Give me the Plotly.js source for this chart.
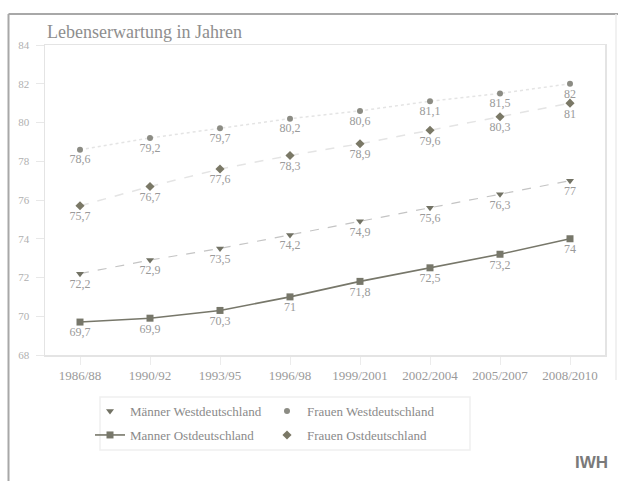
<!DOCTYPE html>
<html>
<head>
<meta charset="utf-8">
<script src="https://cdn.plot.ly/plotly-3.0.1.min.js"></script>
<style>html,body{margin:0;padding:0;background:#fff;}#chart{width:618px;height:481px;}</style>
</head>
<body>
<div id="chart"></div>
<script>
const periods = ["1986/88","1990/92","1993/95","1996/98","1999/2001","2002/2004","2005/2007","2008/2010"];
const maennerWest = [72.2, 72.9, 73.5, 74.2, 74.9, 75.6, 76.3, 77];
const frauenWest  = [78.6, 79.2, 79.7, 80.2, 80.6, 81.1, 81.5, 82];
const maennerOst  = [69.7, 69.9, 70.3, 71, 71.8, 72.5, 73.2, 74];
const frauenOst   = [75.7, 76.7, 77.6, 78.3, 78.9, 79.6, 80.3, 81];
const yTicks = [68,70,72,74,76,78,80,82,84];

const serif = "Liberation Serif, Times New Roman, serif";
const lblFont = {family: serif, size: 12, color: "#9a9a9a"};

function lineTr(y, lcolor, dash, lwidth) {
  return {type: "scatter", mode: "lines", x: periods, y: y, showlegend: false,
    hoverinfo: "skip", line: {color: lcolor, dash: dash, width: lwidth}};
}
function markTr(name, y, symbol, mcolor, legend, msize, withLine, lcolor) {
  return {
    type: "scatter", mode: withLine ? "lines+markers+text" : "markers+text", name: name, x: periods, y: y,
    texttemplate: "%{y}", textposition: "bottom center", textfont: lblFont,
    marker: {symbol: symbol, size: msize, color: mcolor},
    line: {color: lcolor || mcolor, width: 1.6},
    legend: legend, cliponaxis: false
  };
}

const data = [
  lineTr(maennerWest, "#c4c4c4", "dash", 1.2),
  lineTr(frauenWest, "#e4e4e4", "dot", 1.5),
  lineTr(frauenOst, "#e4e4e4", "dash", 1.5),
  markTr("Männer Westdeutschland", maennerWest, "triangle-down", "#727264", "legend", 7, false),
  markTr("Frauen Westdeutschland", frauenWest, "circle", "#8c8c84", "legend", 6, false),
  markTr("Manner Ostdeutschland", maennerOst, "square", "#77776a", "legend2", 7, true, "#77776a"),
  markTr("Frauen Ostdeutschland", frauenOst, "diamond", "#7a7866", "legend2", 7, false)
];
const lx = (px) => (px - 45) / 560;
const ly = (py) => (355 - py) / 310;

const legFont = {family: serif, size: 13, color: "#8a8a8a"};
const layout = {
  width: 618, height: 481,
  margin: {l: 45, r: 13, t: 45, b: 126},
  paper_bgcolor: "#fff", plot_bgcolor: "#fff",
  separators: ",.",
  showlegend: true,
  font: {family: serif, color: "#999"},
  xaxis: {
    type: "category", range: [-0.5, 7.5], showgrid: false, zeroline: false,
    showline: true, linecolor: "#e4e4e4", mirror: true, linewidth: 1.5,
    ticks: "outside", ticklen: 8, tickcolor: "#ececec",
    tickfont: {family: serif, size: 13, color: "#9a9a9a"}, fixedrange: true
  },
  yaxis: {
    range: [68, 84], tickvals: yTicks, ticktext: yTicks.map(String),
    showgrid: false, zeroline: false, showline: true, linecolor: "#e4e4e4", mirror: true, linewidth: 1.5,
    ticks: "outside", ticklen: 8, tickcolor: "#e8e8e8", ticklabelstandoff: 4,
    tickfont: {family: serif, size: 11, color: "#b0b0b0"}, fixedrange: true
  },
  legend: {
    orientation: "h", xref: "container", yref: "container",
    x: 90/618, y: 1 - 396/481, xanchor: "left", yanchor: "top",
    entrywidth: 132, itemwidth: 30, traceorder: "normal",
    font: legFont, bgcolor: "rgba(0,0,0,0)"
  },
  legend2: {
    orientation: "h", xref: "container", yref: "container",
    x: 90/618, y: 1 - 420/481, xanchor: "left", yanchor: "top",
    entrywidth: 132, itemwidth: 30, traceorder: "normal",
    font: legFont, bgcolor: "rgba(0,0,0,0)"
  },
  annotations: [
    {text: "Lebenserwartung in Jahren", xref: "paper", yref: "paper", x: 0, y: ly(32),
     xanchor: "left", yanchor: "middle", showarrow: false,
     font: {family: serif, size: 18, color: "#8e8e8e"}},
    {text: "<b>IWH</b>", xref: "paper", yref: "paper", x: lx(610), y: ly(462),
     xanchor: "right", yanchor: "middle", showarrow: false,
     font: {family: "Liberation Sans, Arial, sans-serif", size: 17, color: "#7a7a7a"}}
  ],
  shapes: [
    {type: "line", xref: "paper", yref: "paper", x0: lx(8.5), x1: lx(8.5), y0: ly(14), y1: ly(481), line: {color: "#a8a8a8", width: 2}},
    {type: "line", xref: "paper", yref: "paper", x0: lx(8.5), x1: lx(618), y0: ly(14), y1: ly(14), line: {color: "#a8a8a8", width: 2}},
    {type: "line", xref: "paper", yref: "paper", x0: lx(616), x1: lx(616), y0: ly(14), y1: ly(380), line: {color: "#ececec", width: 1.5}},
    {type: "rect", xref: "paper", yref: "paper", x0: lx(100), x1: lx(470), y0: ly(397), y1: ly(450), line: {color: "#f0f0f0", width: 1.5}}
  ]
};

Plotly.newPlot("chart", data, layout, {displayModeBar: false, staticPlot: true});
</script>
</body>
</html>
